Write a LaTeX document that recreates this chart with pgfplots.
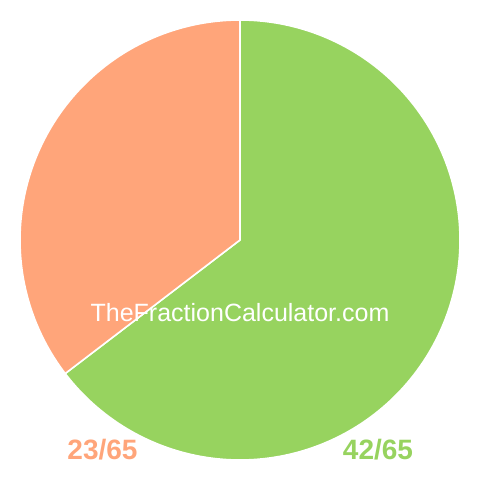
\documentclass[border=0pt]{standalone}
\usepackage{pgfplots}
\pgfplotsset{compat=1.18}
\usepackage{fontspec}
\setmainfont{Liberation Sans}
\definecolor{pgreen}{HTML}{97D35F}
\definecolor{porange}{HTML}{FFA57A}

\begin{document}
\begin{tikzpicture}
    \begin{axis}[
        width=480pt, height=480pt,
        scale only axis,
        xmin=-240, xmax=240,
        ymin=-240, ymax=240,
        hide axis,
        clip=false,
    ]
        \path (rel axis cs:0,0) rectangle (rel axis cs:1,1);
        % 42/65 -> 232.615 deg, clockwise from the top
        \addplot[draw=white, line width=1.6pt, fill=pgreen, line join=round,
            domain=90:-142.615, samples=240]
            ({220*cos(x)}, {220*sin(x)}) -- (axis cs:0,0) -- cycle;
        % 23/65 -> 127.385 deg
        \addplot[draw=white, line width=1.6pt, fill=porange, line join=round,
            domain=-142.615:-270, samples=140]
            ({220*cos(x)}, {220*sin(x)}) -- (axis cs:0,0) -- cycle;

        \node[white, anchor=base, font=\fontsize{25}{25}\selectfont]
            at (axis cs:0,-82) {TheFractionCalculator.com};
        \node[porange, anchor=base, font=\fontsize{28}{28}\selectfont\bfseries]
            at (axis cs:-137.5,-220) {23/65};
        \node[pgreen, anchor=base, font=\fontsize{28}{28}\selectfont\bfseries]
            at (axis cs:138,-220) {42/65};
    \end{axis}
\end{tikzpicture}
\end{document}
